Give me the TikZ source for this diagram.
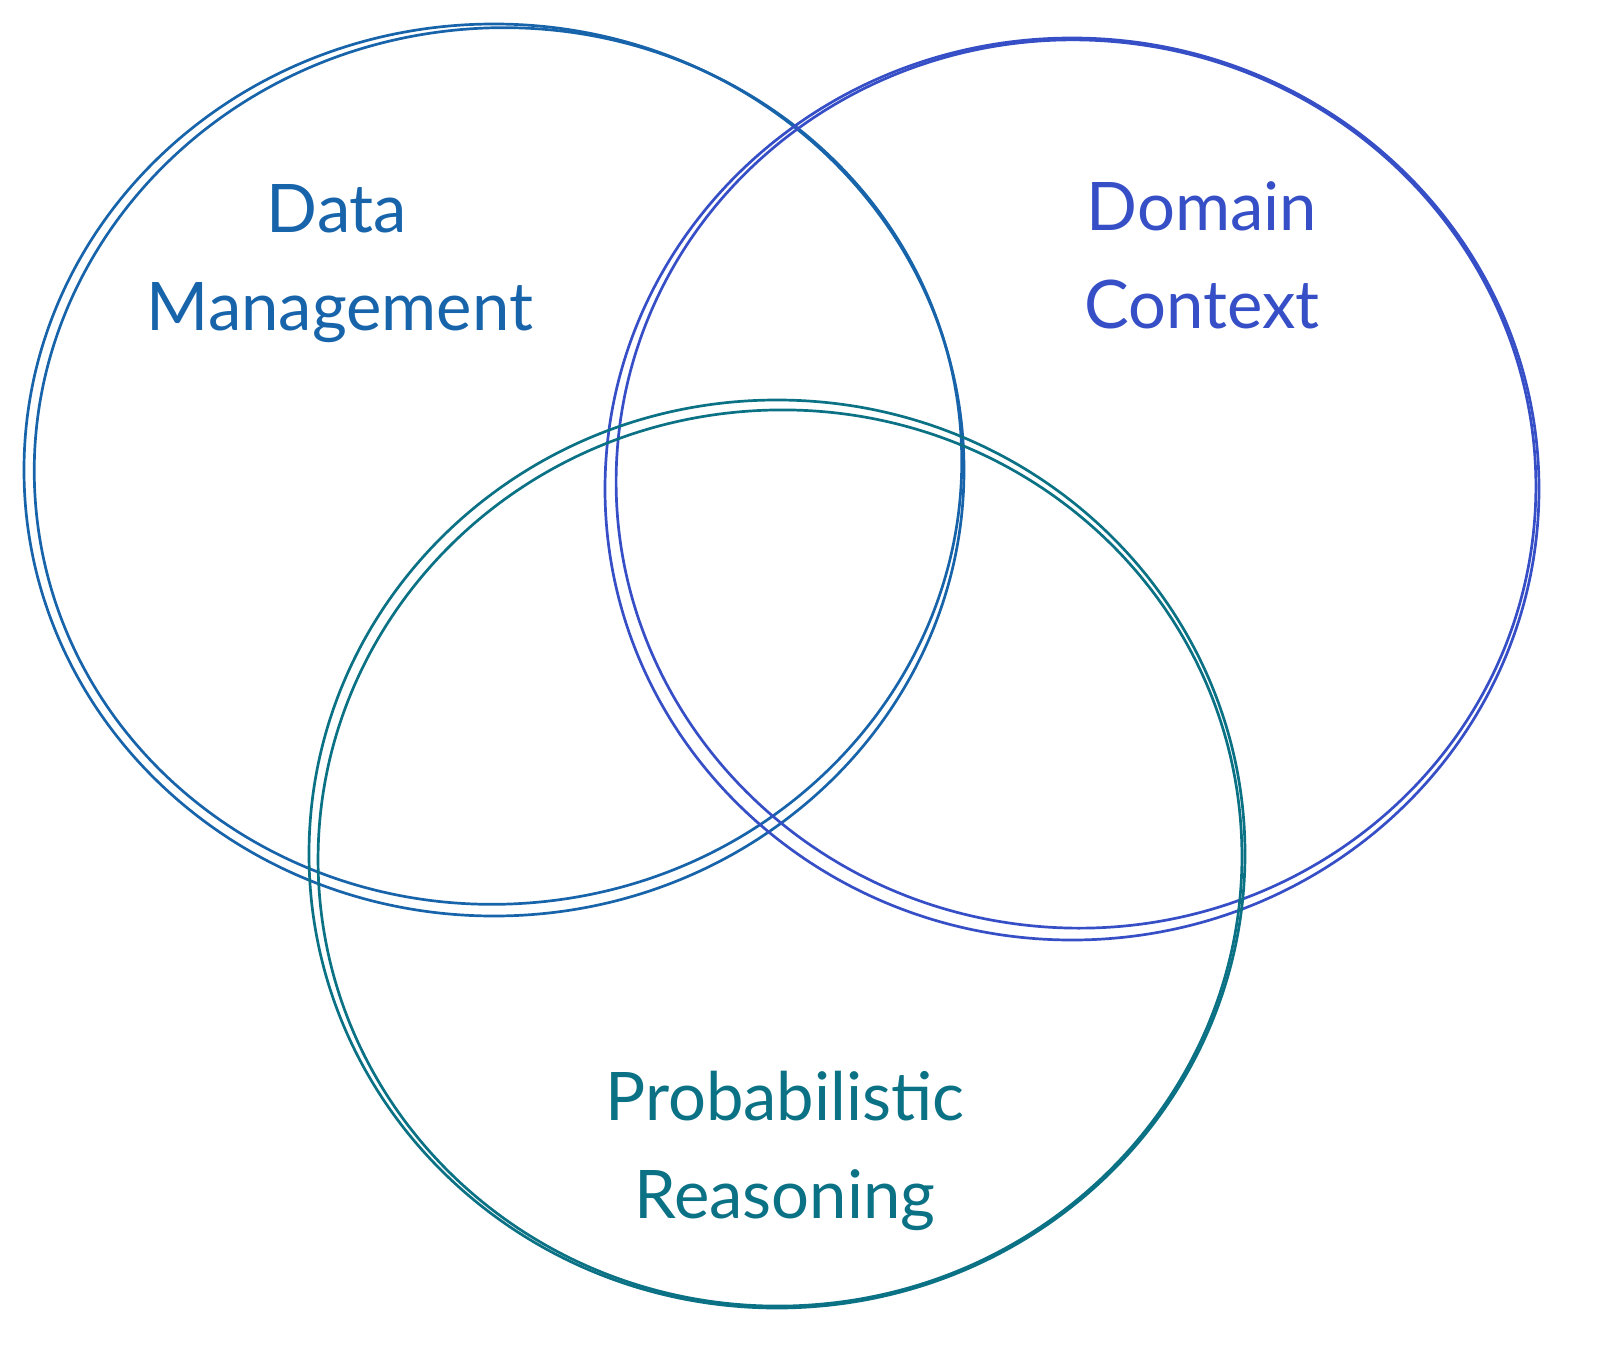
\documentclass[tikz,border=0pt]{standalone}
\usepackage{fontspec}
\setmainfont{Lato}
\definecolor{cblue}{HTML}{1864AB}
\definecolor{cindigo}{HTML}{364FC7}
\definecolor{ccyan}{HTML}{0B7285}
\begin{document}
\begin{tikzpicture}[x=1pt,y=-1pt,
  ring/.style={line width=2.7pt},
  label/.style={anchor=base,inner sep=0pt,font=\fontsize{67}{90}\selectfont}]
\useasboundingbox (0,0) rectangle (1603,1367);
% Data Management circle
\draw[ring,cblue] (494,470) ellipse [x radius=470,y radius=446];
\draw[ring,cblue,rotate around={6:(498,466)}] (498,466) ellipse [x radius=464,y radius=438];
% Domain Context circle
\draw[ring,cindigo] (1072,489) ellipse [x radius=467,y radius=451];
\draw[ring,cindigo,rotate around={-5:(1076,484)}] (1076,484) ellipse [x radius=460,y radius=444];
% Probabilistic Reasoning circle
\draw[ring,ccyan] (777,854) ellipse [x radius=468,y radius=454];
\draw[ring,ccyan,rotate around={4:(780,858)}] (780,858) ellipse [x radius=462,y radius=448];
% labels
\node[label,text=cblue] (dm1) at (337,233) {Data};
\node[label,text=cblue] (dm2) at (340,330) {Management};
\node[label,text=cindigo] (dc1) at (1202,230) {Domain};
\node[label,text=cindigo] (dc2) at (1202,328) {Context};
\node[label,text=ccyan] (pr1) at (785,1120) {Probabilistic};
\node[label,text=ccyan] (pr2) at (785,1218) {Reasoning};
\end{tikzpicture}
\end{document}
